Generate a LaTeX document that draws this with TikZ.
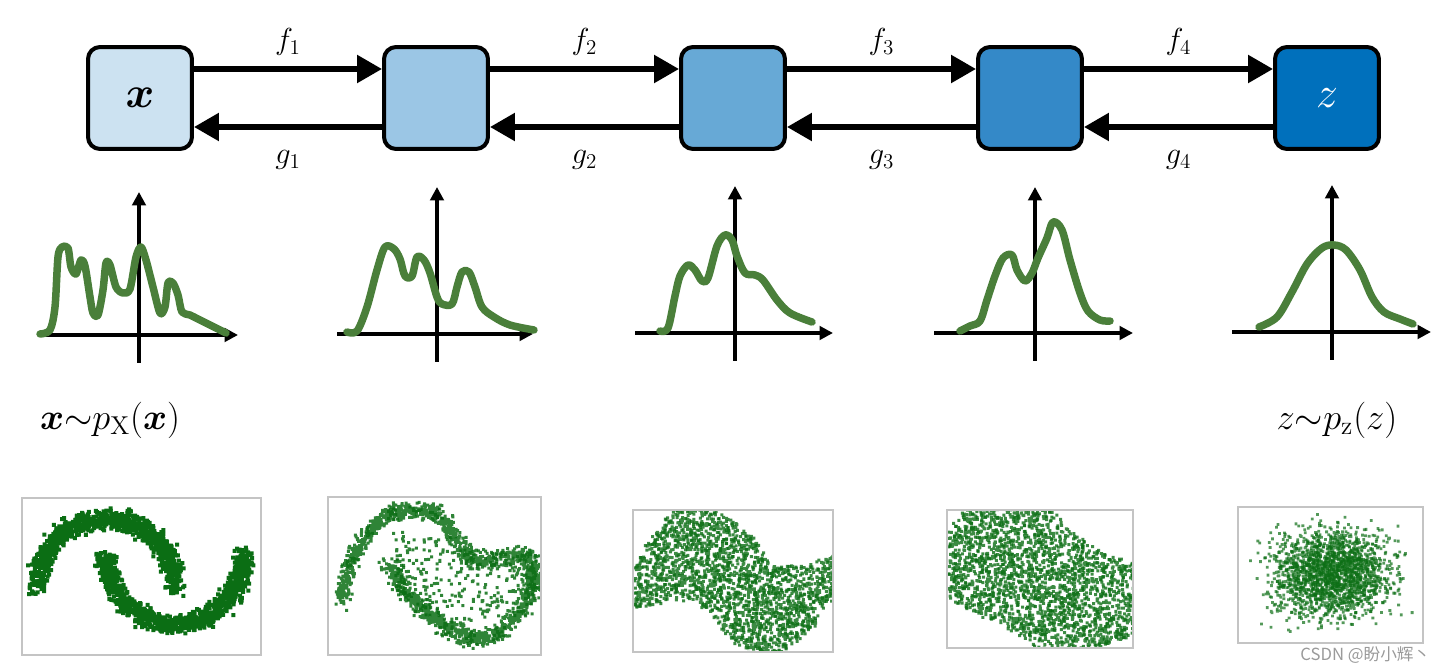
\documentclass[tikz,border=0pt]{standalone}
\usepackage{fontspec}
\usepackage{bm}
\newfontfamily\cjkfont{Noto Sans CJK SC}
\usetikzlibrary{arrows.meta,calc}
\definecolor{cA}{HTML}{CCE2F1}
\definecolor{cB}{HTML}{9BC6E5}
\definecolor{cC}{HTML}{67A9D6}
\definecolor{cD}{HTML}{3489C8}
\definecolor{cE}{HTML}{0070BC}
\definecolor{curvegreen}{HTML}{4A7F3A}
\definecolor{dotgreen}{HTML}{0B6E14}
\definecolor{framegray}{HTML}{C4C4C4}
\definecolor{wmgray}{HTML}{9A9A9A}
% random dots scattered along a segment: x1 y1 x2 y2 n sd size
\newcommand\segdots[7]{%
  \fill[dot] \foreach \ii [evaluate=\ii as \fr using rnd] in {1,...,#5}{
    ({#1+(#3-#1)*\fr+#6*(rand+rand+rand)},{#2+(#4-#2)*\fr+#6*(rand+rand+rand)}) rectangle ++(#7,#7) };}
% random dots in a vertical strip between an upper and a lower edge: x0 U0 L0 x1 U1 L1 n
\newcommand\stripdots[7]{%
  \fill[dot] \foreach \ii [evaluate=\ii as \qq using rnd, evaluate=\ii as \vv using rnd] in {1,...,#7}{
    ({#1+(#4-#1)*\qq},{#2+(#5-#2)*\qq+((#3-#2)+((#6-#5)-(#3-#2))*\qq)*\vv+2*(rand+rand)}) rectangle ++(3,3) };}
\begin{document}
\begin{tikzpicture}[x=0.02cm,y=-0.02cm,
  blk/.style={draw=black, line width=0.08cm, rounded corners=0.24cm, minimum width=2.08cm, minimum height=2.04cm, inner sep=0pt},
  flow/.style={line width=0.11cm, -{Triangle[length=0.5cm,width=0.54cm]}},
  axisar/.style={line width=0.08cm, -{Triangle[length=0.27cm,width=0.27cm]}},
  dens/.style={line width=0.15cm, draw=curvegreen, line cap=round, line join=round},
  lbl/.style={font=\fontsize{18}{21}\selectfont},
  frm/.style={draw=framegray, line width=0.03cm},
  dot/.style={fill=dotgreen},
]
\useasboundingbox (0,0) rectangle (1445,672);
\pgfmathsetseed{4242}

% ---------- boxes ----------
\node[blk, fill=cA] (b1) at (140,98) {\fontsize{27}{30}\selectfont$\bm{x}$};
\node[blk, fill=cB] (b2) at (436,98) {};
\node[blk, fill=cC] (b3) at (733,98) {};
\node[blk, fill=cD] (b4) at (1030,98) {};
\node[blk, fill=cE, text=white] (b5) at (1327,98) {\fontsize{27}{30}\selectfont$z$};

% ---------- arrows ----------
\foreach \a/\b/\k in {b1/b2/1, b2/b3/2, b3/b4/3, b4/b5/4}{
  \draw[flow] ($(\a.east)+(0,-29)$) -- ($(\b.west)+(0,-29)$)
     node[midway, lbl, yshift=0.54cm] (f\k) {$f_{\k}$};
  \draw[flow] ($(\b.west)+(0,29)$) -- ($(\a.east)+(0,29)$)
     node[midway, lbl, yshift=-0.66cm] (g\k) {$g_{\k}$};
}

% ---------- density plots ----------
\begin{scope}[shift={(139,335)}, yscale=-1]
  \draw[axisar] (-101,0) -- (99,0);
  \draw[axisar] (0,-28) -- (0,143);
  \draw[dens] plot[smooth, tension=0.5] coordinates {(-99,1) (-89,5) (-84,28) (-81,78) (-77,88) (-71,87) (-68,68) (-63,61) (-58,75) (-54,69) (-49,38) (-46,22) (-41,20) (-36,45) (-33,72) (-29,70) (-23,48) (-16,42) (-9,46) (-3,78) (2,88) (7,75) (14,48) (21,22) (26,28) (29,52) (34,52) (39,40) (43,23) (51,20) (67,12) (87,2)};
\end{scope}
\begin{scope}[shift={(437,334)}, yscale=-1]
  \draw[axisar] (-100,0) -- (96,0);
  \draw[axisar] (0,-28) -- (0,147);
  \draw[dens] plot[smooth, tension=0.55] coordinates {(-90,2) (-80,3) (-70,27) (-60,64) (-52,87) (-43,85) (-37,75) (-32,58) (-25,58) (-20,77) (-13,74) (-7,61) (0,37) (5,30) (15,30) (20,47) (25,62) (32,62) (38,47) (45,27) (57,17) (73,9) (97,4)};
\end{scope}
\begin{scope}[shift={(735,333)}, yscale=-1]
  \draw[axisar] (-100,0) -- (98,0);
  \draw[axisar] (0,-28) -- (0,147);
  \draw[dens] plot[smooth, tension=0.55] coordinates {(-75,2) (-67,5) (-60,37) (-55,57) (-47,68) (-40,63) (-33,52) (-27,55) (-18,87) (-10,98) (-3,93) (2,77) (10,60) (20,58) (28,53) (42,33) (55,20) (77,11)};
\end{scope}
\begin{scope}[shift={(1035,333)}, yscale=-1]
  \draw[axisar] (-101,0) -- (98,0);
  \draw[axisar] (0,-28) -- (0,146);
  \draw[dens] plot[smooth, tension=0.55] coordinates {(-75,2) (-65,7) (-55,12) (-48,33) (-40,57) (-32,75) (-23,78) (-18,63) (-10,52) (-3,60) (3,75) (12,95) (18,111) (27,103) (35,73) (45,40) (53,22) (65,13) (75,12)};
\end{scope}
\begin{scope}[shift={(1332,332)}, yscale=-1]
  \draw[axisar] (-100,0) -- (99,0);
  \draw[axisar] (0,-28) -- (0,147);
  \draw[dens] plot[smooth, tension=0.55] coordinates {(-73,5) (-55,15) (-40,40) (-25,68) (-10,84) (2,87) (14,82) (28,62) (40,35) (52,20) (68,13) (81,8)};
\end{scope}

% ---------- formulas ----------
\node[font=\fontsize{21}{25}\selectfont] (lx) at (110,420) {$\bm{x}{\sim}p_{\mathrm{X}}(\bm{x})$};
\node[font=\fontsize{21}{25}\selectfont] (lz) at (1337,420) {$z{\sim}p_{\mathrm{z}}(z)$};

% ---------- scatter 1: two moons ----------
\begin{scope}
  \clip (22,498) rectangle (261,655);
  \foreach \k in {1,...,3}{
    \fill[dot] \foreach \ii [evaluate=\ii as \tt using 180*rnd] in {1,...,350}{
      ({104+69*(cos(\tt)+0.07*(rand+rand+rand))},{587-70*(sin(\tt)+0.07*(rand+rand+rand))}) rectangle ++(4,4) };
    \fill[dot] \foreach \ii [evaluate=\ii as \tt using 180*rnd] in {1,...,350}{
      ({104+69*(1-cos(\tt)+0.07*(rand+rand+rand))},{587-70*(0.5-sin(\tt)+0.07*(rand+rand+rand))}) rectangle ++(4,4) };
  }
\end{scope}
\draw[frm] (22,498) rectangle (261,655);

% ---------- scatter 2: warped moons ----------
\begin{scope}[fill opacity=0.85]
  \clip (328,497) rectangle (541,655);
  \foreach \xa/\ya/\xb/\yb/\n in {338/600/350/560/130, 350/560/366/530/110, 366/530/390/512/105, 390/512/415/507/90,
      415/507/437/512/85, 437/512/452/535/90, 452/535/468/558/90, 468/558/498/557/75, 498/557/527/552/80, 527/552/530/595/110}{
    \segdots{\xa}{\ya}{\xb}{\yb}{\n}{3.8}{3}
  }
  \foreach \xa/\ya/\xb/\yb/\n in {385/562/400/585/90, 400/585/420/607/100, 420/607/445/626/110, 445/626/470/638/110,
      470/638/497/633/110, 497/633/518/610/100, 518/610/533/585/95, 533/585/533/560/70}{
    \segdots{\xa}{\ya}{\xb}{\yb}{\n}{4.2}{3}
  }
  \fill[dot] \foreach \ii [evaluate=\ii as \qq using rnd, evaluate=\ii as \vv using rnd] in {1,...,260}{
    ({392+130*\qq},{528+28*\qq+(60+35*sin(180*\qq)-28*\qq)*\vv}) rectangle ++(3,3) };
\end{scope}
\draw[frm] (328,497) rectangle (541,655);

% ---------- scatter 3: sine band ----------
\begin{scope}[fill opacity=0.8]
  \clip (633,510) rectangle (833,652);
  \foreach \xa/\ua/\la/\xb/\ub/\lb/\n in {633/562/608/655/530/602/135, 655/530/602/674/506/597/160, 674/506/597/696/504/600/210,
      696/504/600/717/512/622/220, 717/512/622/738/522/645/250, 738/522/645/755/540/656/210, 755/540/656/770/562/658/165,
      770/562/658/792/566/642/195, 792/566/642/812/562/625/145, 812/562/625/833/552/595/110}{
    \pgfmathtruncatemacro\m{0.6*\n}
    \stripdots{\xa}{\ua}{\la}{\xb}{\ub}{\lb}{\m}
    \stripdots{\xa}{\ua}{\la}{\xb}{\ub}{\lb}{\m}
  }
\end{scope}
\draw[frm] (633,510) rectangle (833,652);

% ---------- scatter 4: tilted band ----------
\begin{scope}[fill opacity=0.8]
  \clip (947,510) rectangle (1133,648);
  \foreach \xa/\ua/\la/\xb/\ub/\lb/\n in {947/528/598/962/512/605/115, 962/512/605/975/505/612/120, 975/505/612/1001/505/622/265,
      1001/505/622/1033/505/645/370, 1033/505/645/1050/510/650/215, 1050/510/650/1081/540/650/345,
      1081/540/650/1105/552/642/215, 1105/552/642/1133/563/632/195}{
    \pgfmathtruncatemacro\m{0.6*\n}
    \stripdots{\xa}{\ua}{\la}{\xb}{\ub}{\lb}{\m}
    \stripdots{\xa}{\ua}{\la}{\xb}{\ub}{\lb}{\m}
  }
\end{scope}
\draw[frm] (947,510) rectangle (1133,648);

% ---------- scatter 5: gaussian ----------
\begin{scope}[fill opacity=0.7]
  \clip (1238,507) rectangle (1423,643);
  \foreach \k in {1,...,5}{
    \fill[dot] \foreach \ii in {1,...,400}{
      ({1330+29*(rand+rand+rand)},{573+21*(rand+rand+rand)}) rectangle ++(2.8,2.8) };
  }
\end{scope}
\draw[frm] (1238,507) rectangle (1423,643);

% ---------- watermark ----------
\node[anchor=west, text=wmgray, font=\cjkfont\fontsize{9.5}{11}\selectfont, inner sep=0pt] (wm) at (1300,655) {CSDN @盼小辉丶};
\end{tikzpicture}
\end{document}
